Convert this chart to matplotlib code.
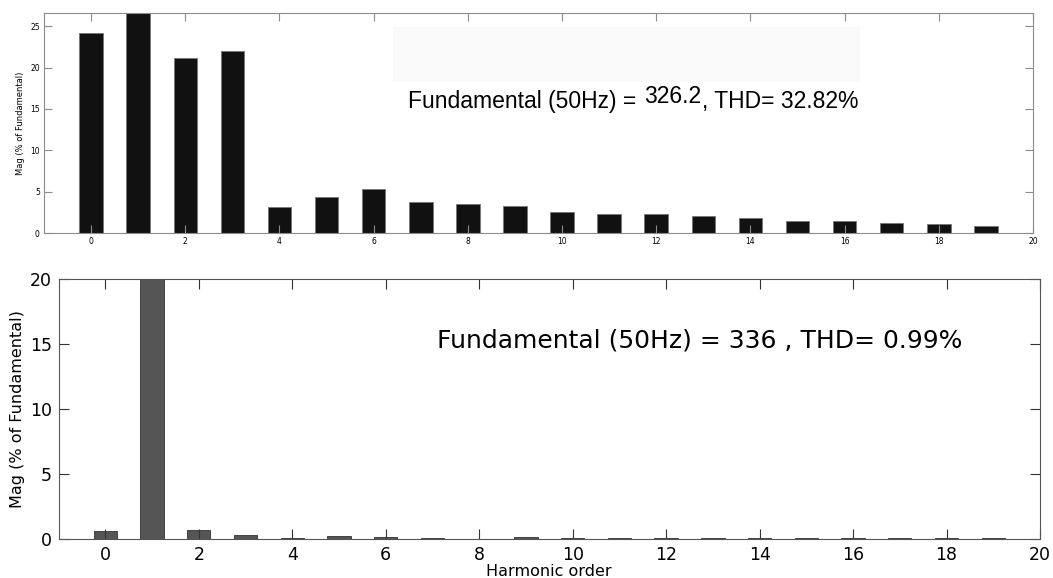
import numpy as np
import matplotlib
matplotlib.use('Agg')
from matplotlib import pyplot as plt
from matplotlib.patches import Rectangle

# harmonic order 0..19
harmonics = np.arange(20)

# before filtering (% of fundamental), fundamental bar clipped by the axis
mag_before = [24.2, 100.0, 21.1, 22.0, 3.1, 4.3, 5.3, 3.75, 3.5, 3.25,
              2.5, 2.35, 2.25, 2.0, 1.8, 1.5, 1.4, 1.2, 1.05, 0.9]
# after filtering
mag_after = [0.6, 100.0, 0.7, 0.33, 0.05, 0.25, 0.15, 0.08, 0.03, 0.15,
             0.08, 0.07, 0.06, 0.08, 0.04, 0.07, 0.07, 0.05, 0.05, 0.04]

xticks = list(range(0, 21, 2))
fund_before = '326.2'
thd_before = '32.82%'
fund_after = '336'
thd_after = '0.99%'

fig = plt.figure(figsize=(10.53, 5.78), dpi=100)
frame_col = '#8c8c8c'

# top plot
ax1 = fig.add_axes([44/1053, 1 - 233/578, (1033 - 44)/1053, (233 - 13)/578])
ax1.bar(harmonics, mag_before, width=0.5, color='#111111', edgecolor='#777777', linewidth=0.6)
ax1.set_xlim(-1, 20)
ax1.set_ylim(0, 26.6)
ax1.set_xticks(xticks)
ax1.set_yticks([0, 5, 10, 15, 20, 25])
ax1.tick_params(direction='in', top=True, right=True, length=6, width=0.8,
                color=frame_col, labelsize=5.5, pad=3)
for s in ax1.spines.values():
    s.set_color(frame_col)
    s.set_linewidth(0.8)
ax1.set_ylabel('Mag (% of Fundamental)', fontsize=6, labelpad=4)
# faint leftover box above the annotation
ax1.add_patch(Rectangle((6.42, 18.2), 9.9, 6.7, facecolor='#fafafa', edgecolor='none', zorder=0.5))

# annotation pieces chained one after another, the value sits a bit higher
tfont = ['Liberation Sans', 'DejaVu Sans']
t1 = ax1.text(6.72, 15.1, 'Fundamental (50Hz) = ', family=tfont, fontsize=16.5,
              ha='left', va='baseline')
t2 = ax1.annotate(fund_before, xy=(1, 0), xycoords=t1, xytext=(1.5, 4), textcoords='offset points',
                  family=tfont, fontsize=16.5, ha='left', va='bottom')
ax1.annotate(', THD= ' + thd_before, xy=(1, 0), xycoords=t2, xytext=(0.5, -4), textcoords='offset points',
             family=tfont, fontsize=16.5, ha='left', va='bottom')

# bottom plot
ax2 = fig.add_axes([58.6/1053, 1 - 539/578, (1040 - 58.6)/1053, (539 - 279)/578])
ax2.bar(harmonics, mag_after, width=0.5, color='#555555', edgecolor='#333333', linewidth=0.6)
ax2.set_xlim(-1, 20)
ax2.set_ylim(0, 20)
ax2.set_xticks(xticks)
ax2.set_yticks([0, 5, 10, 15, 20])
ax2.tick_params(direction='in', top=True, right=True, length=7, width=0.8,
                color='#333333', labelsize=12.5, pad=5)
for s in ax2.spines.values():
    s.set_color('#555555')
    s.set_linewidth(0.8)
ax2.set_ylabel('Mag (% of Fundamental)', fontsize=11.5, labelpad=3)
ax2.set_xlabel('Harmonic order', fontsize=11.5, labelpad=0)
ax2.text(7.1, 14.7, 'Fundamental (50Hz) = ' + fund_after + ' , THD= ' + thd_after,
         fontsize=18, ha='left', va='baseline')

fig.savefig('out.png', dpi=100)
